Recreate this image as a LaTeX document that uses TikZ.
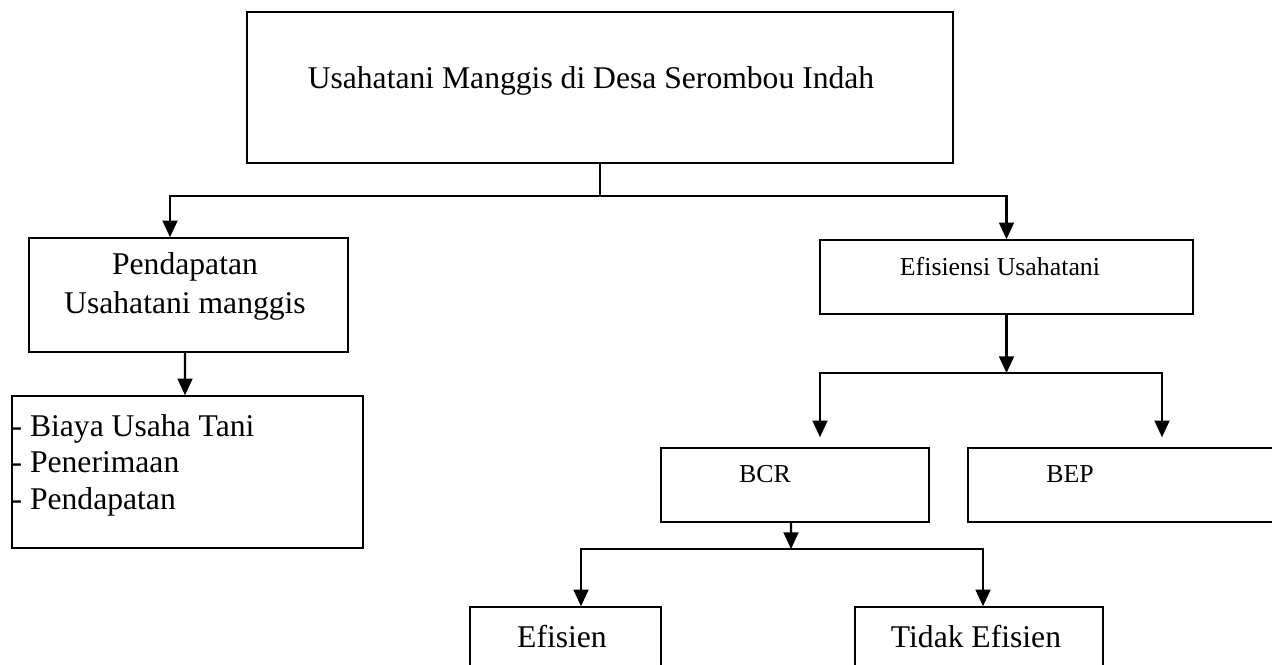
\documentclass[tikz,border=0pt]{standalone}
\usepackage{fontspec}
\setmainfont{Liberation Serif}
\usetikzlibrary{arrows.meta}

\tikzset{
	box/.style={rectangle, draw=black, line width=0.9pt, inner sep=0pt},
	bigtext/.style={font=\fontsize{18}{22}\selectfont, inner sep=0pt},
	smalltext/.style={font=\fontsize{14.7}{17}\selectfont, inner sep=0pt},
	arrow/.style={-{Triangle[length=9.5pt, width=8.5pt]}, line width=1.2pt},
	link/.style={line width=1.2pt}
}

\begin{document}
\begin{tikzpicture}[x=0.02cm, y=-0.02cm]
	\useasboundingbox (0,0) rectangle (1272,664);

	% boxes
	\node[box, minimum width=14.12cm, minimum height=3.02cm, label={[bigtext, anchor=center, xshift=-0.18cm, yshift=-1.4cm]north:Usahatani Manggis di Desa Serombou Indah}](usahaBox) at (600,87.5){};
	\node[box, minimum width=6.38cm, minimum height=2.28cm, label={[bigtext, align=center, anchor=center, xshift=-0.07cm, yshift=-0.99cm]north:Pendapatan\\Usahatani manggis}](pendBox) at (188.5,295){};
	\node[box, minimum width=7.02cm, minimum height=3.04cm, label={[font=\fontsize{18}{20.7}\selectfont, inner sep=0pt, align=left, anchor=north west, yshift=-0.38cm]north west:- Biaya Usaha Tani\\- Penerimaan\\- Pendapatan}](costBox) at (187.5,472){};
	\node[box, minimum width=7.46cm, minimum height=1.48cm, label={[smalltext, anchor=center, xshift=-0.13cm, yshift=-0.54cm]north:Efisiensi Usahatani}](efisBox) at (1006.5,277){};
	\node[box, minimum width=5.36cm, minimum height=1.48cm, label={[smalltext, anchor=center, xshift=-0.6cm, yshift=-0.54cm]north:BCR}](bcrBox) at (795,485){};
	\node[box, minimum width=6.16cm, minimum height=1.48cm, label={[smalltext, anchor=center, xshift=-1.04cm, yshift=-0.54cm]north:BEP}](bepBox) at (1122,485){};
	\node[box, minimum width=3.82cm, minimum height=1.6cm, label={[bigtext, anchor=center, xshift=-0.07cm, yshift=-0.6cm]north:Efisien}](efisienBox) at (565.5,647){};
	\node[box, minimum width=4.96cm, minimum height=1.6cm, label={[bigtext, anchor=center, xshift=-0.06cm, yshift=-0.6cm]north:Tidak Efisien}](tidakBox) at (979,647){};

	% split points
	\coordinate (topSplit) at (600,196);
	\coordinate (efisSplit) at (1006.5,373);
	\coordinate (bcrSplit) at (791,549);

	% draw top edges
	\draw[link] (usahaBox.south) -- (topSplit);
	\draw[arrow] (topSplit) -| ([xshift=-0.37cm]pendBox.north);
	\draw[arrow] (topSplit) -| (efisBox.north);
	\draw[arrow] ([xshift=-0.07cm]pendBox.south) -- ([xshift=-0.05cm]costBox.north);

	% draw efficiency edges
	\draw[arrow] (efisBox.south) -- (efisSplit);
	\draw[arrow, shorten >=0.2cm] (efisSplit) -| ([xshift=0.5cm]bcrBox.north);
	\draw[arrow, shorten >=0.2cm] (efisSplit) -| ([xshift=0.8cm]bepBox.north);

	% draw bcr edges
	\draw[arrow] ([xshift=-0.08cm]bcrBox.south) -- (bcrSplit);
	\draw[arrow] (bcrSplit) -| ([xshift=0.31cm]efisienBox.north);
	\draw[arrow] (bcrSplit) -| ([xshift=0.08cm]tidakBox.north);

\end{tikzpicture}
\end{document}
